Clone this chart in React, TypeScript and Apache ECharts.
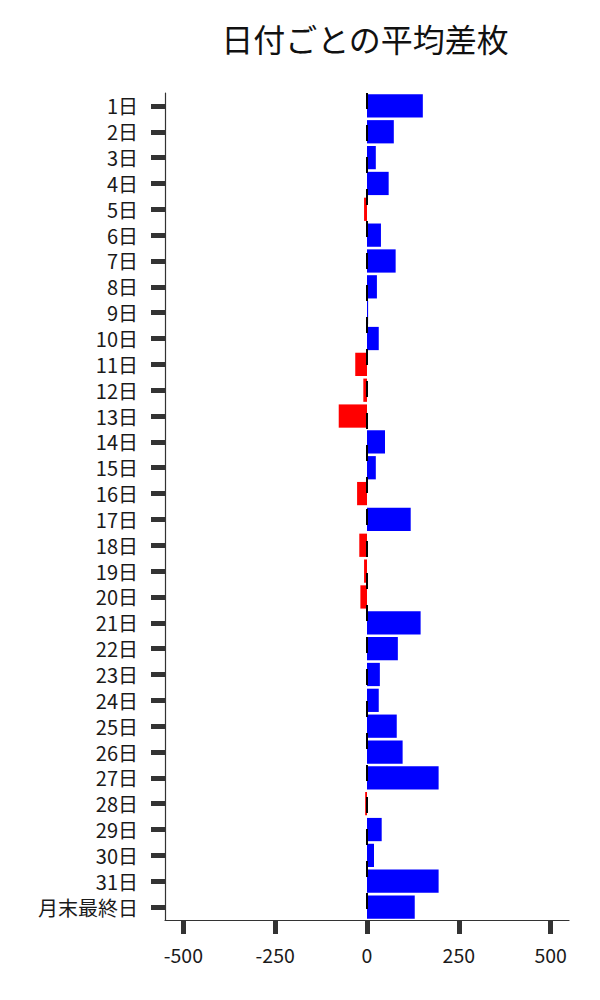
import React, { useEffect, useRef } from "react";
import * as echarts from "echarts";

const titleText = "日付ごとの平均差枚";
const categories = [
  "1日", "2日", "3日", "4日", "5日", "6日", "7日", "8日", "9日", "10日",
  "11日", "12日", "13日", "14日", "15日", "16日", "17日", "18日", "19日", "20日",
  "21日", "22日", "23日", "24日", "25日", "26日", "27日", "28日", "29日", "30日",
  "31日", "月末最終日",
];
const avgDiff = [
  152, 73, 24, 59, -8, 38, 78, 27, 3, 32,
  -32, -10, -77, 49, 24, -27, 119, -21, -8, -18,
  146, 84, 35, 32, 81, 97, 195, -5, 40, 19,
  195, 130,
];
const xTicks = [-500, -250, 0, 250, 500];
const xMin = -550;
const xMax = 550;

const FONT = "'Noto Sans CJK JP', 'Noto Sans', sans-serif";

export default function App() {
  const ref = useRef<HTMLDivElement>(null);
  useEffect(() => {
    document.body.style.margin = "0";
    if (!ref.current) return;
    const chart = echarts.init(ref.current, undefined, { renderer: "svg" });
    chart.setOption({
      animation: false,
      backgroundColor: "#ffffff",
      title: {
        text: titleText,
        left: 360,
        top: 17,
        textAlign: "center",
        textStyle: { fontFamily: FONT, fontSize: 32, fontWeight: "normal", color: "#111" },
      },
      grid: { left: 165, right: 31, top: 93, bottom: 80, containLabel: false },
      xAxis: {
        type: "value",
        min: xMin,
        max: xMax,
        splitLine: { show: false },
        axisLine: { show: true, onZero: false, lineStyle: { color: "#333", width: 1.2 } },
        axisTick: { show: true, customValues: xTicks, length: 14, lineStyle: { color: "#333", width: 5 } },
        axisLabel: {
          customValues: xTicks,
          margin: 25,
          fontFamily: FONT,
          fontSize: 19.5,
          color: "#1a1a1a",
        },
      },
      yAxis: {
        type: "category",
        data: categories,
        inverse: true,
        boundaryGap: true,
        axisLine: { show: true, onZero: false, lineStyle: { color: "#333", width: 1.2 } },
        axisTick: { show: true, alignWithLabel: true, length: 14, lineStyle: { color: "#333", width: 5 } },
        axisLabel: {
          margin: 27,
          fontFamily: FONT,
          fontSize: 20,
          lineHeight: 22,
          color: "#1a1a1a",
          interval: 0,
        },
        splitLine: { show: false },
      },
      series: [
        {
          type: "line",
          data: [],
          z: 1,
          silent: true,
          markLine: {
            silent: true,
            symbol: "none",
            label: { show: false },
            lineStyle: { color: "#000", width: 2, type: [16, 16] },
            data: [{ xAxis: 0 }],
          },
        },
        {
          type: "bar",
          z: 3,
          data: avgDiff,
          barWidth: "90%",
          itemStyle: {
            color: (p: any) => (p.value >= 0 ? "#0000ff" : "#ff0000"),
          },
        },
      ],
    });
    return () => chart.dispose();
  }, []);
  return <div ref={ref} style={{ width: 600, height: 1000 }} />;
}
